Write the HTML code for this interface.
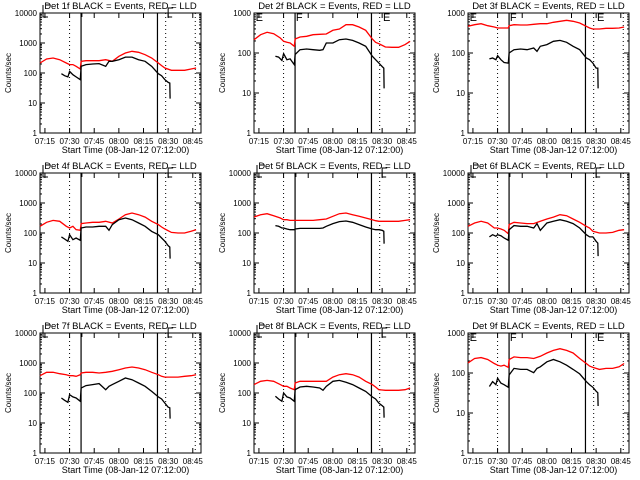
<!DOCTYPE html>
<html><head><meta charset="utf-8"><style>
html,body{margin:0;padding:0;background:#fff;}
svg{display:block;font-family:"Liberation Sans",sans-serif;}
</style></head><body>
<svg id="chart" width="640" height="480" viewBox="0 0 640 480" xmlns="http://www.w3.org/2000/svg"></svg>
<script>
// Time samples (minutes after 07:12:00)
const redT = [0,4,8,12,16,18,20,22,24.5,25,28,32,36,40,44,48,52,56,60,64,68,72,74,76,80,84,88,92,95];
const blkT = [13,15,17,18,20,22,24.5,25,28,32,36,40,42,44,48,52,56,60,64,68,72,74,76,78,79,79.2];
const detNames = ["1f","2f","3f","4f","5f","6f","7f","8f","9f"];
const yMaxDecade = [4,3,3,4,4,4,4,4,3];
const red1 = [215,293,316,278,215,190,190,167,136,245,258,258,258,278,245,359,464,527,489,408,316,215,177,147,123,123,123,136,147];
const red2 = [215,287,329,304,237,196,185,178,147,224,251,261,287,293,298,369,398,511,511,447,369,224,185,171,141,139,139,162,196];
const red3 = [464,511,541,482,447,422,422,422,422,482,511,501,501,521,541,541,585,619,656,619,562,464,422,398,398,414,414,422,447];
const red4 = [167,227,263,245,167,147,167,129,123,205,215,227,227,245,215,293,408,464,408,340,245,190,158,136,105,100,100,114,129];
const red5 = [341,408,440,376,316,278,278,263,263,263,263,263,263,278,293,359,440,464,408,359,316,278,258,245,245,245,245,263,278];
const red6 = [167,215,245,215,147,147,136,123,95,190,227,215,205,205,245,293,340,408,376,293,227,167,147,114,100,100,105,123,129];
const red7 = [376,489,489,440,408,376,376,359,408,464,489,489,464,489,527,599,681,736,681,599,489,408,359,340,340,340,359,376,408];
const red8 = [190,245,263,245,190,167,167,147,129,215,245,245,245,245,245,340,408,440,408,340,245,190,158,129,123,123,123,129,147];
const red9 = [179,230,243,217,173,157,149,157,138,217,252,243,243,230,262,316,368,405,368,316,230,173,149,138,123,130,130,143,173];
const blk1 = [95,81,74,113,88,74,60,167,190,200,205,167,245,245,278,340,340,278,245,167,95,81,60,49,46,14];
const blk2 = [83,79,65,96,68,71,51,91,121,126,121,117,121,178,178,215,224,207,178,147,83,68,56,46,42,13];
const blk3 = [71,75,68,86,68,58,56,100,121,126,121,133,110,147,162,196,207,185,147,121,75,68,56,42,42,13];
const blk4 = [74,63,53,88,60,68,57,147,158,158,167,167,123,190,278,316,278,215,167,113,88,68,53,38,34,14];
const blk5 = [177,167,147,147,136,129,129,136,142,142,142,142,147,167,205,240,252,227,190,158,136,129,129,123,114,44];
const blk6 = [74,88,78,88,81,68,57,129,177,167,167,147,205,123,215,245,278,245,205,147,88,74,74,53,46,17];
const blk7 = [68,57,49,88,74,68,53,147,177,190,205,129,167,190,245,316,278,215,167,113,74,63,46,34,32,14];
const blk8 = [78,63,53,100,74,68,53,129,158,167,158,147,123,167,245,263,227,190,147,113,74,63,46,38,34,15];
const blk9 = [46,61,51,74,56,51,44,89,130,123,123,102,130,143,190,217,190,157,123,95,61,51,44,35,32,15];
const redSeries = [red1,red2,red3,red4,red5,red6,red7,red8,red9];
const blkSeries = [blk1,blk2,blk3,blk4,blk5,blk6,blk7,blk8,blk9];
const xTickMin = [3,18,33,48,63,78,93];
const xTickLabels = ["07:15","07:30","07:45","08:00","08:15","08:30","08:45"];
const dottedMin = [18,76.5,94.5];
const solidMin = [25,71.5];

const NS = "http://www.w3.org/2000/svg";
const svg = document.getElementById("chart");
function mk(tag, attrs, parent){
  const e = document.createElementNS(NS, tag);
  for (const k in attrs) e.setAttribute(k, attrs[k]);
  (parent||svg).appendChild(e);
  return e;
}
const colLeft = [40,254,468], rowTop = [13,173,333];
const W = 161, H = 120, tMax = 98;

for (let p = 0; p < 9; p++) {
  const L = colLeft[p%3], T = rowTop[Math.floor(p/3)], B = T + H, R = L + W;
  const top = yMaxDecade[p];
  const xs = m => L + m / tMax * W;
  const ys = v => B - Math.log10(v) / top * H;
  const g = mk("g", {});
  
  

  const title = mk("text", {x: L + W/2, y: T - 4, "text-anchor": "middle", "font-size": 9.5}, g);
  title.textContent = "Det " + detNames[p] + " BLACK = Events, RED = LLD";
  
  

  const box = mk("rect", {x: L, y: T, width: W, height: H, fill: "none", stroke: "#000", "stroke-width": 1}, g);
  
  

  for (let d = 0; d <= top; d++) {
    const y = B - d / top * H;
    mk("line", {x1: L, x2: L + 5, y1: y, y2: y, stroke: "#000"}, g);
    mk("line", {x1: R - 5, x2: R, y1: y, y2: y, stroke: "#000"}, g);
    for (let k = 2; k < 10 && d < top; k++) {
      const ym = ys(Math.pow(10, d) * k);
      mk("line", {x1: L, x2: L + 2, y1: ym, y2: ym, stroke: "#000"}, g);
      mk("line", {x1: R - 2, x2: R, y1: ym, y2: ym, stroke: "#000"}, g);
    }
    const lab = mk("text", {x: L - 3, y: y + 3, "text-anchor": "end", "font-size": 8}, g);
    lab.textContent = String(Math.pow(10, d));
    
    
  }
  xTickMin.forEach((m, i) => {
    const x = xs(m);
    mk("line", {x1: x, x2: x, y1: B, y2: B - 5, stroke: "#000"}, g);
    mk("line", {x1: x, x2: x, y1: T, y2: T + 5, stroke: "#000"}, g);
    const lab = mk("text", {x: x, y: B + 11, "text-anchor": "middle", "font-size": 8}, g);
    lab.textContent = xTickLabels[i];
    
    
  });
  const xt = mk("text", {x: L + W/2 + 5, y: B + 20, "text-anchor": "middle", "font-size": 9}, g);
  xt.textContent = "Start Time (08-Jan-12 07:12:00)";
  
  
  const yt = mk("text", {x: 0, y: 0, "text-anchor": "middle", "font-size": 8, transform: "translate(" + (L - 29) + "," + (T + H/2) + ") rotate(-90)"}, g);
  yt.textContent = "Counts/sec";
  
  

  dottedMin.forEach(m => {
    const l = mk("line", {x1: xs(m), x2: xs(m), y1: T, y2: B, stroke: "#000", "stroke-dasharray": "1,3"}, g);
    
    
  });
  solidMin.forEach(m => {
    const l = mk("line", {x1: xs(m), x2: xs(m), y1: T, y2: B, stroke: "#000", "stroke-width": 1.2}, g);
    
    
  });

  if (top === 3) {
    [[1,"E"],[25.5,"F"],[78.5,"E"]].forEach(a => {
      const t = mk("text", {x: xs(a[0]), y: T + 8, "font-size": 11}, g);
      t.textContent = a[1];
      
      
    });
  } else {
    const b1 = mk("path", {d: "M" + (L+6) + "," + (T-8) + "h4M" + (L+3) + "," + (T-8) + "v12h5", fill: "none", stroke: "#000"}, g);
    
    
    const b2 = mk("path", {d: "M" + (xs(25.5)) + "," + T + "v4", fill: "none", stroke: "#000"}, g);
    
    
    const x3 = xs(78);
    const b3 = mk("path", {d: "M" + (x3+5) + "," + (T-5) + "h-5v9h4", fill: "none", stroke: "#000"}, g);
    
    
  }

  const rd = redSeries[p].map((v, i) => (i ? "L" : "M") + xs(redT[i]).toFixed(1) + "," + ys(v).toFixed(1)).join("");
  const rl = mk("path", {d: rd, fill: "none", stroke: "#ff0000", "stroke-width": 1.3}, g);
  
  
  const bd = blkSeries[p].map((v, i) => (i ? "L" : "M") + xs(blkT[i]).toFixed(1) + "," + ys(v).toFixed(1)).join("");
  const bl = mk("path", {d: bd, fill: "none", stroke: "#000", "stroke-width": 1.3}, g);
  
  
}
</script>
</body></html>
